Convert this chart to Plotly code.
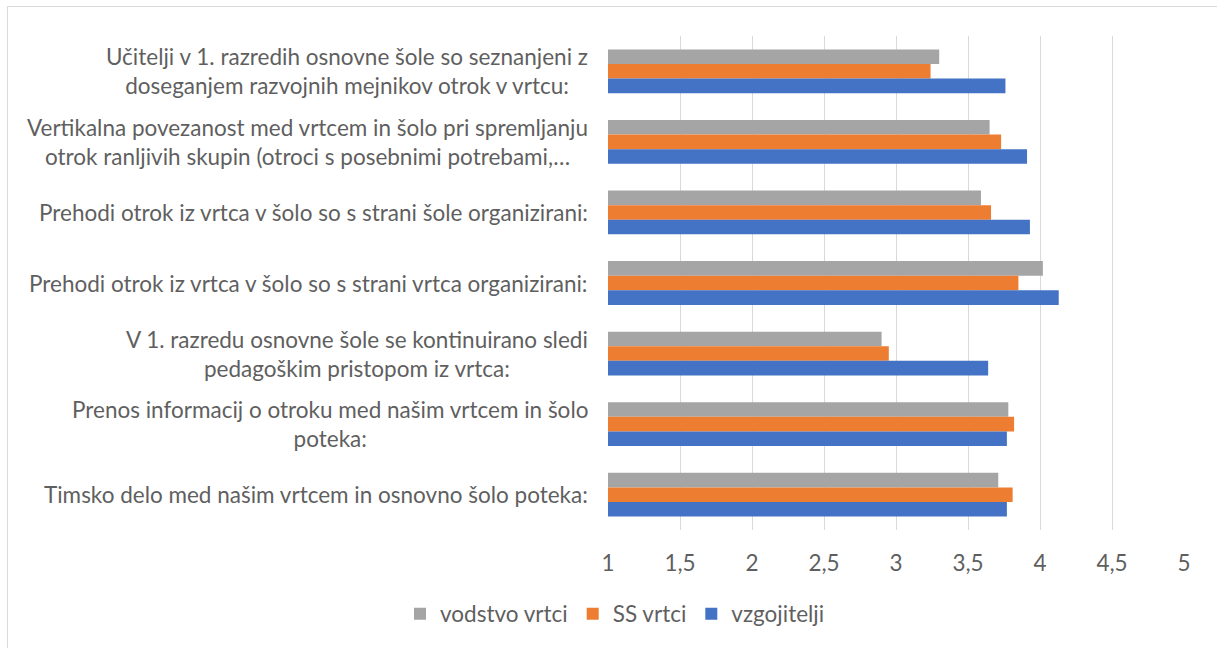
import plotly.graph_objects as go

categories = [
    "Učitelji v 1. razredih osnovne šole so seznanjeni z<br>doseganjem razvojnih mejnikov otrok v vrtcu:",
    "Vertikalna povezanost med vrtcem in šolo pri spremljanju<br>otrok ranljivih skupin (otroci s posebnimi potrebami,…",
    "Prehodi otrok iz vrtca v šolo so s strani šole organizirani:",
    "Prehodi otrok iz vrtca v šolo so s strani vrtca organizirani:",
    "V 1. razredu osnovne šole se kontinuirano sledi<br>pedagoškim pristopom iz vrtca:",
    "Prenos informacij o otroku med našim vrtcem in šolo<br>poteka:",
    "Timsko delo med našim vrtcem in osnovno šolo poteka:",
]
vodstvo_vrtci = [3.30, 3.65, 3.59, 4.02, 2.90, 3.78, 3.71]
ss_vrtci = [3.24, 3.73, 3.66, 3.85, 2.95, 3.82, 3.81]
vzgojitelji = [3.76, 3.91, 3.93, 4.13, 3.64, 3.77, 3.77]
series_names = ["vodstvo vrtci", "SS vrtci", "vzgojitelji"]
colors = ["#A5A5A5", "#ED7D31", "#4472C4"]
tick_vals = [1, 1.5, 2, 2.5, 3, 3.5, 4, 4.5, 5]
tick_text = ["1", "1,5", "2", "2,5", "3", "3,5", "4", "4,5", "5"]

FONT = "Lato, 'Open Sans', sans-serif"
TXT = "#5F5F5F"
FS = 22.5

W, H = 1217, 648
L, R, T, B = 608, 33, 36, 118
pw, ph = W - L - R, H - T - B

fig = go.Figure()
for name, vals, col in zip(series_names, [vodstvo_vrtci, ss_vrtci, vzgojitelji], colors):
    fig.add_trace(go.Bar(
        y=categories, x=vals, name=name, orientation="h",
        marker=dict(color=col, line=dict(width=0)),
        base=0,
    ))

annotations = []
for c in categories:
    annotations.append(dict(
        x=0, xref="paper", y=c, yref="y", text=c, showarrow=False,
        xanchor="right", yanchor="middle", align="center", xshift=-18,
        font=dict(family=FONT, size=FS, color=TXT),
    ))

def px_to_paper_x(p):
    return (p - L) / pw

def px_to_paper_y(p):
    return (H - B - p) / ph

fig.update_layout(
    width=W, height=H,
    margin=dict(l=L, r=R, t=T, b=B),
    paper_bgcolor="white", plot_bgcolor="white",
    barmode="group", bargap=0.38, bargroupgap=0,
    font=dict(family=FONT, size=FS, color=TXT),
    xaxis=dict(
        range=[1, 5], tickvals=tick_vals, ticktext=tick_text,
        showgrid=True, gridcolor="#D9D9D9", gridwidth=1.3,
        zeroline=False, showline=False, ticks="",
        ticklabelstandoff=17,
        tickfont=dict(family=FONT, size=FS, color=TXT),
    ),
    yaxis=dict(
        autorange="reversed", showticklabels=False, showgrid=False,
        zeroline=False, showline=False, ticks="",
    ),
    legend=dict(
        orientation="h", x=px_to_paper_x(615), xanchor="center",
        y=px_to_paper_y(614), yanchor="middle",
        font=dict(family=FONT, size=FS, color=TXT),
        traceorder="normal",
    ),
    annotations=annotations,
    shapes=[dict(
        type="rect", xref="paper", yref="paper",
        x0=px_to_paper_x(7.5), x1=px_to_paper_x(1230),
        y0=px_to_paper_y(660), y1=px_to_paper_y(6.5),
        line=dict(color="#D9D9D9", width=1), fillcolor="rgba(0,0,0,0)",
        layer="below",
    )],
)

fig.write_html("out.html", config={"displayModeBar": False},
               post_script="document.body.style.margin='0px';")
